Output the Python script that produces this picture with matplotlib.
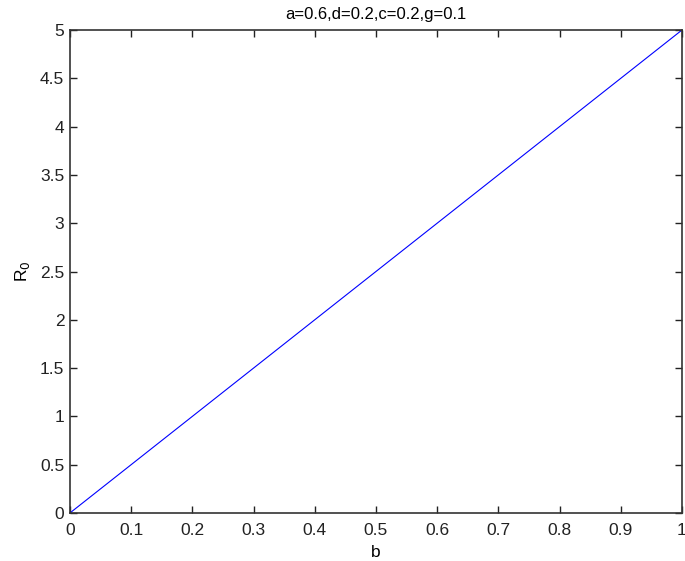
import numpy as np
import matplotlib
matplotlib.use('Agg')
import matplotlib.pyplot as plt

# parametros del modelo
a = 0.6
d = 0.2
c = 0.2
g = 0.1

# valores de b y R0
b_vals = [0.0, 1.0]
r0_vals = [0.0, 5.0]

x_ticks = [0, 0.1, 0.2, 0.3, 0.4, 0.5, 0.6, 0.7, 0.8, 0.9, 1]
y_ticks = [0, 0.5, 1, 1.5, 2, 2.5, 3, 3.5, 4, 4.5, 5]

plt.rcParams['font.family'] = ['Liberation Sans', 'DejaVu Sans']
plt.rcParams['font.size'] = 12.5

fig = plt.figure(figsize=(6.85, 5.61), dpi=100)
ax = fig.add_axes([0.102, 0.0855, 0.8936, 0.861])

ax.plot(b_vals, r0_vals, color='blue', linewidth=0.8)

ax.set_xlim(0, 1)
ax.set_ylim(0, 5)
ax.set_xticks(x_ticks)
ax.set_yticks(y_ticks)
ax.set_xticklabels([f'{t:g}' for t in x_ticks])
ax.set_yticklabels([f'{t:g}' for t in y_ticks])
ax.tick_params(direction='in', top=True, right=True, length=5, width=1,
               colors='#222222', labelcolor='#222222', pad=4)
ax.tick_params(axis='x', pad=7)
for s in ax.spines.values():
    s.set_linewidth(1.2)
    s.set_color('#333333')

ax.set_title(f'a={a},d={d},c={c},g={g}', fontsize=12, pad=8)
ax.set_xlabel('b', labelpad=5)
ax.set_ylabel('R$_0$', labelpad=6)

plt.savefig('out.png', dpi=100)
plt.close()
